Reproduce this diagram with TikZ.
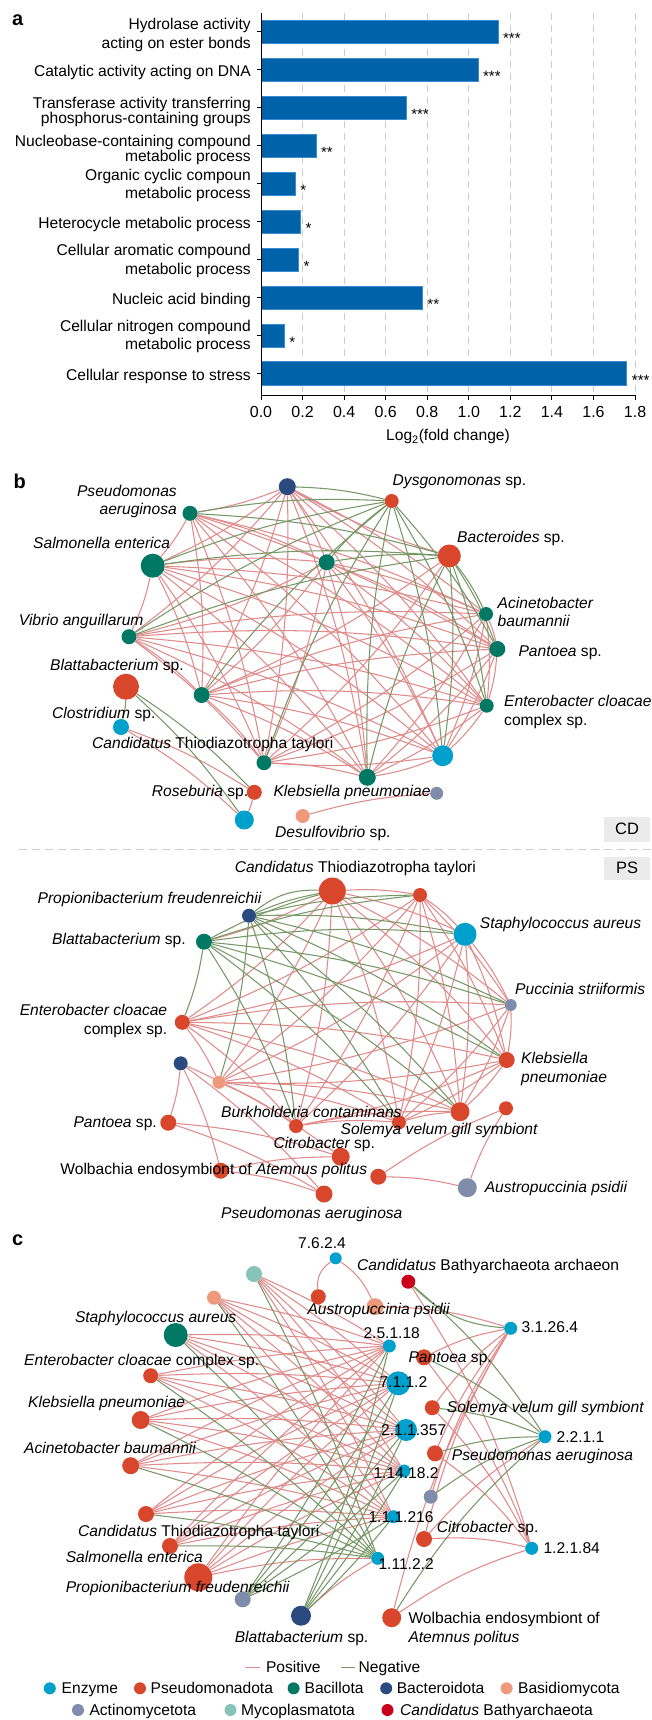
\documentclass[tikz,border=0pt]{standalone}
\usepackage{fontspec}
\setmainfont{Liberation Sans}
\usetikzlibrary{backgrounds}
\definecolor{barblue}{RGB}{0,98,168}
\definecolor{baredge}{RGB}{60,140,205}
\definecolor{enz}{RGB}{0,160,204}
\definecolor{pseu}{RGB}{216,70,44}
\definecolor{baci}{RGB}{0,120,100}
\definecolor{bact}{RGB}{43,74,128}
\definecolor{basi}{RGB}{238,152,124}
\definecolor{acti}{RGB}{128,140,172}
\definecolor{myco}{RGB}{135,196,184}
\definecolor{bath}{RGB}{200,0,26}
\definecolor{posc}{RGB}{224,138,138}
\definecolor{negc}{RGB}{118,152,102}
\definecolor{gridc}{RGB}{205,205,205}
\definecolor{boxc}{RGB}{235,235,235}
\newcommand\fsz{\fontsize{15.6}{18}\selectfont}
\newcommand\dotn[5]{\node[nd,fill=#2,minimum size=#3pt] (#1) at (#4,#5) {};}
\tikzset{
  lab/.style={inner sep=0pt, font=\fsz, text height=11.2pt, text depth=0pt},
  nd/.style={circle, inner sep=0pt, draw=none},
  pe/.style={draw=posc, line width=1.05pt},
  ne/.style={draw=negc, line width=1.05pt},
  letter/.style={inner sep=0pt, font=\bfseries\fontsize{20}{20}\selectfont},
}
\begin{document}
\begin{tikzpicture}[x=1pt,y=-1pt]
\useasboundingbox (0,0) rectangle (651,1720);
\begin{pgfonlayer}{background}
\fill[white] (0,0) rectangle (651,1720);
\end{pgfonlayer}

% ================= panel a =================
\node[letter] (la) at (17.6,20) {a};
\foreach \k in {1,...,9}
  \draw[gridc, dash pattern=on 7pt off 5pt, line width=0.9pt] ({261+\k*41.56},13) -- ({261+\k*41.56},395);
\foreach \i/\v/\s in {1/1.14/***,2/1.044/***,3/0.698/***,4/0.264/**,5/0.164/*,6/0.19/*,7/0.18/*,8/0.776/**,9/0.112/*,10/1.76/***}{
  \pgfmathsetmacro\yc{31.7+37.96*(\i-1)}
  \filldraw[fill=barblue, draw=baredge, line width=0.5pt] (261,{\yc-11.6}) rectangle ({261+\v*207.8},{\yc+11.6});
  \node[anchor=base west, inner sep=0pt, font=\fontsize{15}{15}\selectfont] at ({261+\v*207.8+5},{\yc+11.8}) {\s};
  \draw[line width=0.9pt] (257,\yc) -- (261,\yc);
}
\draw[line width=0.9pt] (261,13) -- (261,395) -- (635.5,395);
\foreach \k/\t in {0/0.0,1/0.2,2/0.4,3/0.6,4/0.8,5/1.0,6/1.2,7/1.4,8/1.6,9/1.8}{
  \draw[line width=0.9pt] ({261+\k*41.56},395) -- ({261+\k*41.56},400);
  \node[lab, font=\fontsize{16}{16}\selectfont] at ({261+\k*41.56},411.7) {\t};
}
\node[lab] (xlab) at (448,435) {Log\textsubscript{2}(fold change)};
\node[lab,anchor=east] at (251,24) {Hydrolase activity};
\node[lab,anchor=east] at (251,42.7) {acting on ester bonds};
\node[lab,anchor=east] at (251,71.2) {Catalytic activity acting on DNA};
\node[lab,anchor=east] at (251,102.7) {Transferase activity transferring};
\node[lab,anchor=east] at (251,117.8) {phosphorus-containing groups};
\node[lab,anchor=east] at (251,140.7) {Nucleobase-containing compound};
\node[lab,anchor=east] at (251,155.5) {metabolic process};
\node[lab,anchor=east] at (251,175) {Organic cyclic compoun};
\node[lab,anchor=east] at (251,193.3) {metabolic process};
\node[lab,anchor=east] at (251,223) {Heterocycle metabolic process};
\node[lab,anchor=east] at (251,250) {Cellular aromatic compound};
\node[lab,anchor=east] at (251,268.7) {metabolic process};
\node[lab,anchor=east] at (251,299) {Nucleic acid binding};
\node[lab,anchor=east] at (251,325.7) {Cellular nitrogen compound};
\node[lab,anchor=east] at (251,344.3) {metabolic process};
\node[lab,anchor=east] at (251,374.5) {Cellular response to stress};

% ================= panel b : CD =================
\node[letter] (lb) at (19.7,481) {b};
\dotn{cdA}{bact}{17}{287.3}{486.7}
\dotn{cdB}{pseu}{14}{391.7}{501}
\dotn{cdC}{baci}{15}{190}{513.3}
\dotn{cdD}{pseu}{23}{449.3}{556}
\dotn{cdE}{baci}{24}{152.7}{565.7}
\dotn{cdF}{baci}{16}{326.7}{562.3}
\dotn{cdG}{baci}{14}{486}{614}
\dotn{cdH}{baci}{15}{129}{636.7}
\dotn{cdI}{baci}{16}{497.3}{649}
\dotn{cdJ}{pseu}{26}{126}{686.7}
\dotn{cdK}{baci}{16}{201.7}{695}
\dotn{cdL}{baci}{14}{486.7}{705.7}
\dotn{cdM}{enz}{16}{121}{727}
\dotn{cdN}{enz}{21}{442.7}{755.7}
\dotn{cdO}{baci}{15}{264}{762.7}
\dotn{cdP}{baci}{17}{367.3}{777.3}
\dotn{cdQ}{pseu}{15}{254.3}{792.3}
\dotn{cdR}{acti}{13}{436.7}{793.3}
\dotn{cdS}{enz}{19}{244.3}{820}
\dotn{cdT}{basi}{14}{302.7}{816}
\begin{pgfonlayer}{background}
\foreach \a/\b in {cdA/cdC,cdA/cdE,cdA/cdF,cdA/cdG,cdA/cdI,cdA/cdK,cdA/cdL,cdA/cdN,cdA/cdO,cdA/cdP,cdA/cdH,
  cdC/cdE,cdC/cdF,cdC/cdG,cdC/cdI,cdC/cdK,cdC/cdL,cdC/cdN,cdC/cdO,cdC/cdP,
  cdE/cdF,cdE/cdG,cdE/cdI,cdE/cdK,cdE/cdL,cdE/cdN,cdE/cdO,cdE/cdP,cdE/cdH,
  cdF/cdG,cdF/cdI,cdF/cdK,cdF/cdL,cdF/cdN,cdF/cdO,cdF/cdP,cdF/cdH,
  cdH/cdG,cdH/cdI,cdH/cdK,cdH/cdL,cdH/cdN,cdH/cdO,cdH/cdP,
  cdK/cdG,cdK/cdI,cdK/cdL,cdK/cdN,cdK/cdO,cdK/cdP,
  cdG/cdL,cdG/cdN,cdG/cdO,cdG/cdP,cdG/cdI,
  cdI/cdL,cdI/cdN,cdI/cdO,cdI/cdP,
  cdL/cdN,cdL/cdO,cdL/cdP,cdN/cdO,cdN/cdP,cdO/cdP,
  cdD/cdK,cdD/cdO,cdD/cdA,cdM/cdQ,cdM/cdS,cdQ/cdS,cdT/cdR}
  \draw[pe] (\a) to[bend left=6] (\b);
\foreach \a/\b in {cdA/cdB,cdC/cdB,cdC/cdD,cdE/cdB,cdE/cdD,cdF/cdB,cdF/cdD,cdH/cdB,cdH/cdD,cdK/cdB,
  cdO/cdB,cdP/cdB,cdP/cdD,cdB/cdI,cdB/cdL,cdB/cdN,cdD/cdG,cdD/cdI,cdD/cdL,cdD/cdN,cdJ/cdQ,cdJ/cdS,cdJ/cdM}
  \draw[ne] (\a) to[bend left=6] (\b);
\end{pgfonlayer}
\node[lab,anchor=east] at (177,491) {\itshape Pseudomonas};
\node[lab,anchor=east] at (177,509.3) {\itshape aeruginosa};
\node[lab,anchor=west] at (392.5,480) {{\itshape Dysgonomonas} sp.};
\node[lab,anchor=west] at (33,543.3) {\itshape Salmonella enterica};
\node[lab,anchor=west] at (457,536.5) {{\itshape Bacteroides} sp.};
\node[lab,anchor=west] at (497.5,603.3) {\itshape Acinetobacter};
\node[lab,anchor=west] at (497.5,620.7) {\itshape baumannii};
\node[lab,anchor=west] at (18.7,620) {\itshape Vibrio anguillarum};
\node[lab,anchor=west] at (518.3,650.7) {{\itshape Pantoea} sp.};
\node[lab,anchor=west] at (50,665) {{\itshape Blattabacterium} sp.};
\node[lab,anchor=west] at (504,701) {\itshape Enterobacter cloacae};
\node[lab,anchor=west] at (504,720) {complex sp.};
\node[lab,anchor=west] at (52,713.3) {{\itshape Clostridium} sp.};
\node[lab,anchor=west] at (92,743.3) {{\itshape Candidatus} Thiodiazotropha taylori};
\node[lab,anchor=west] at (151.7,790.7) {{\itshape Roseburia} sp.};
\node[lab,anchor=west] at (273.3,790.7) {\itshape Klebsiella pneumoniae};
\node[lab,anchor=west] at (275,831.7) {{\itshape Desulfovibrio} sp.};
\node[fill=boxc, inner sep=0pt, minimum width=46pt, minimum height=25pt, font=\fontsize{16.5}{17}\selectfont] (cd) at (627,829.2) {CD};
\draw[gridc, dash pattern=on 8pt off 5pt, line width=1pt] (18.7,849) -- (651,849);
\node[fill=boxc, inner sep=0pt, minimum width=46pt, minimum height=23pt, font=\fontsize{16.5}{17}\selectfont] (ps) at (627,868) {PS};

% ================= panel b : PS =================
\dotn{psa}{pseu}{27}{332.3}{891}
\dotn{psb}{pseu}{14}{420}{895}
\dotn{psc}{bact}{14}{249}{915.7}
\dotn{psd}{enz}{23}{465}{934.3}
\dotn{pse}{baci}{16}{204}{941.7}
\dotn{psf}{acti}{12}{510.7}{1005}
\dotn{psg}{pseu}{15}{182.3}{1022.3}
\dotn{psh}{bact}{14}{180.7}{1063.3}
\dotn{psi}{pseu}{16}{506.7}{1060}
\dotn{psj}{basi}{13}{219}{1082.3}
\dotn{psk}{pseu}{16}{168.3}{1122.7}
\dotn{psl}{pseu}{14}{296}{1126}
\dotn{psm}{pseu}{14}{399}{1122.3}
\dotn{psn}{pseu}{19}{460}{1111.7}
\dotn{pso}{pseu}{14}{506}{1108.3}
\dotn{psp}{pseu}{18}{340.7}{1156.7}
\dotn{psq}{pseu}{16}{220.7}{1170.7}
\dotn{psr}{pseu}{16}{378.3}{1176.7}
\dotn{pss}{acti}{19}{467.3}{1187.7}
\dotn{pst}{pseu}{17}{324}{1194}
\begin{pgfonlayer}{background}
\foreach \a/\b in {psa/psb,psa/psd,psa/psg,psa/psi,psa/psj,psa/psl,psa/psm,psa/psn,psa/psf,psa/pse,
  psb/psd,psb/psg,psb/psj,psb/psl,psb/psm,psb/psn,psb/psi,psb/psf,
  psd/psg,psd/psf,psd/psi,psd/psj,psd/psl,psd/psm,psd/psn,
  psg/psf,psg/psi,psg/psn,psg/psl,psg/psm,psg/psj,
  psf/psi,psf/psj,psf/psn,psf/psm,psi/psj,psi/psl,psi/psm,psi/psn,
  psj/psl,psj/psm,psj/psn,psl/psm,psl/psn,psm/psn,
  psh/psk,psh/psq,psh/pst,psh/psp,psk/psp,psk/pst,psq/psp,psq/pst,psr/pso,psr/pss,pss/pso}
  \draw[pe] (\a) to[bend left=6] (\b);
\foreach \a/\b in {psc/psa,psc/psb,psc/psd,psc/psf,psc/psl,psc/psm,psc/psn,psc/psi,psc/psj,
  pse/psa,pse/psb,pse/psd,pse/psf,pse/psi,pse/psn,pse/psg,pse/psl,pse/psm}
  \draw[ne] (\a) to[bend left=6] (\b);
\draw[ne] (psc) to[bend left=20] (psa);
\end{pgfonlayer}
\node[lab,anchor=west] at (234.6,866.7) {{\itshape Candidatus} Thiodiazotropha taylori};
\node[lab,anchor=west] at (37.4,897.7) {\itshape Propionibacterium freudenreichii};
\node[lab,anchor=west] at (479.7,923) {\itshape Staphylococcus aureus};
\node[lab,anchor=west] at (52,939.3) {{\itshape Blattabacterium} sp.};
\node[lab,anchor=west] at (515,989) {\itshape Puccinia striiformis};
\node[lab,anchor=east] at (167.4,1010) {\itshape Enterobacter cloacae};
\node[lab,anchor=east] at (167.4,1029.3) {complex sp.};
\node[lab,anchor=west] at (521,1058.3) {\itshape Klebsiella};
\node[lab,anchor=west] at (521,1077.3) {\itshape pneumoniae};
\node[lab,anchor=east] at (157,1122.3) {{\itshape Pantoea} sp.};
\node[lab,anchor=west] at (221,1112.3) {\itshape Burkholderia contaminans};
\node[lab,anchor=west] at (340.5,1129.3) {\itshape Solemya velum gill symbiont};
\node[lab,anchor=west] at (273.3,1143.3) {{\itshape Citrobacter} sp.};
\node[lab,anchor=west] at (60.2,1169.3) {Wolbachia endosymbiont of {\itshape Atemnus politus}};
\node[lab,anchor=west] at (484.6,1186.7) {\itshape Austropuccinia psidii};
\node[lab,anchor=west] at (221,1212.7) {\itshape Pseudomonas aeruginosa};

% ================= panel c =================
\node[letter] (lc) at (17.7,1240) {c};
\dotn{c7624}{enz}{12}{335.7}{1258.3}
\dotn{cmyc}{myco}{16}{254}{1274}
\dotn{cbat}{bath}{14}{408.3}{1281.7}
\dotn{cred}{pseu}{15}{318.3}{1296.7}
\dotn{cbas}{basi}{14}{214}{1297.7}
\dotn{caus}{basi}{17}{375}{1306.7}
\dotn{csta}{baci}{24}{175.7}{1335}
\dotn{c31264}{enz}{13}{510.7}{1328.3}
\dotn{c25118}{enz}{13}{389.3}{1346}
\dotn{cpan}{pseu}{16}{424}{1357.3}
\dotn{cent}{pseu}{15}{150.7}{1375.7}
\dotn{c7112}{enz}{24}{398.3}{1383.3}
\dotn{csol}{pseu}{15}{432.3}{1407.7}
\dotn{ckle}{pseu}{18}{140.7}{1420}
\dotn{c211357}{enz}{22}{406}{1430}
\dotn{c2211}{enz}{13}{545}{1436.7}
\dotn{cpsa}{pseu}{16}{435}{1453.3}
\dotn{caci}{pseu}{17}{130.7}{1465.7}
\dotn{c114182}{enz}{13}{404}{1471}
\dotn{cgra}{acti}{14}{430.7}{1496.7}
\dotn{cctt}{pseu}{16}{146}{1514}
\dotn{c111216}{enz}{13}{393.3}{1516.7}
\dotn{ccit}{pseu}{16}{424}{1539}
\dotn{csal}{pseu}{16}{170}{1546}
\dotn{c12184}{enz}{13}{531.7}{1548.3}
\dotn{c11122}{enz}{13}{377.7}{1558.3}
\dotn{cpro}{pseu}{28}{198.3}{1577.3}
\dotn{cgrb}{acti}{16}{242.7}{1599.3}
\dotn{cbla}{bact}{20}{301}{1615.7}
\dotn{cwol}{pseu}{19}{391.7}{1617.7}
\begin{pgfonlayer}{background}
\foreach \a in {csta,cent,ckle,caci,cctt,csal,cpro,cbas,cmyc}
  \foreach \b in {c25118,c7112,c211357,c114182,c111216}
    \draw[pe] (\a) to[bend left=4] (\b);
\foreach \a in {cpro,cbla}
  \draw[pe] (\a) to[bend left=6] (c11122);
\foreach \a in {csta,cent,ckle,caci,cctt,csal,cmyc,cbas}
  \draw[ne] (\a) to[bend left=4] (c11122);
\foreach \a in {cgrb,cbla}
  \foreach \b in {c25118,c7112,c211357,c114182,c111216}
    \draw[ne] (\a) to[bend right=4] (\b);
\draw[pe] (c7624) to[bend right=30] (cred);
\draw[pe] (c7624) to[bend left=15] (caus);
\foreach \a/\b in {cbat/c12184,cpan/c31264,cpan/c12184,csol/c31264,csol/c12184,cpsa/c31264,cpsa/c12184,
  cgra/c31264,ccit/c31264,ccit/c2211,ccit/c12184,cwol/c31264,cwol/c12184,caus/c31264}
  \draw[pe] (\a) to[bend left=8] (\b);
\foreach \a/\b in {cbat/c2211,cpan/c2211,csol/c2211,cpsa/c2211,cgra/c2211,cwol/c2211}
  \draw[ne] (\a) to[bend left=8] (\b);
\draw[ne] (cbat) to[bend right=20] (c31264);
\end{pgfonlayer}
\node[lab] at (322,1243) {7.6.2.4};
\node[lab,anchor=west] at (357,1265) {{\itshape Candidatus} Bathyarchaeota archaeon};
\node[lab,anchor=west] at (307.3,1309) {\itshape Austropuccinia psidii};
\node[lab,anchor=west] at (74.8,1316.7) {\itshape Staphylococcus aureus};
\node[lab,anchor=west] at (521.5,1327.3) {3.1.26.4};
\node[lab,anchor=west] at (363.3,1332.7) {2.5.1.18};
\node[lab,anchor=west] at (408.3,1357.3) {{\itshape Pantoea} sp.};
\node[lab,anchor=west] at (24,1360) {{\itshape Enterobacter cloacae} complex sp.};
\node[lab,anchor=west] at (379.3,1382.3) {7.1.1.2};
\node[lab,anchor=west] at (28,1401.7) {\itshape Klebsiella pneumoniae};
\node[lab,anchor=west] at (446.7,1406.7) {\itshape Solemya velum gill symbiont};
\node[lab,anchor=west] at (381,1430) {2.1.1.357};
\node[lab,anchor=west] at (556.5,1436.7) {2.2.1.1};
\node[lab,anchor=west] at (24,1447.7) {\itshape Acinetobacter baumannii};
\node[lab,anchor=west] at (451.7,1455) {\itshape Pseudomonas aeruginosa};
\node[lab,anchor=west] at (373.3,1473.3) {1.14.18.2};
\node[lab,anchor=west] at (368.3,1517.3) {1.1.1.216};
\node[lab,anchor=west] at (436.7,1526.7) {{\itshape Citrobacter} sp.};
\node[lab,anchor=west] at (78,1530.7) {{\itshape Candidatus} Thiodiazotropha taylori};
\node[lab,anchor=west] at (543.3,1548.3) {1.2.1.84};
\node[lab,anchor=west] at (65.6,1557.3) {\itshape Salmonella enterica};
\node[lab,anchor=west] at (378.3,1564) {1.11.2.2};
\node[lab,anchor=west] at (65.6,1586.7) {\itshape Propionibacterium freudenreichii};
\node[lab,anchor=west] at (234.6,1636.7) {{\itshape Blattabacterium} sp.};
\node[lab,anchor=west] at (408.3,1618.3) {Wolbachia endosymbiont of};
\node[lab,anchor=west] at (408.3,1636.7) {\itshape Atemnus politus};

% ================= legend =================
\coordinate (lp1) at (245,1667.3); \coordinate (lp2) at (259.6,1667.3);
\draw[pe] (lp1) -- (lp2);
\node[lab,anchor=west] at (265.8,1667.3) {Positive};
\coordinate (ln1) at (341,1667.3); \coordinate (ln2) at (354.5,1667.3);
\draw[ne] (ln1) -- (ln2);
\node[lab,anchor=west] at (358.5,1667.3) {Negative};
\foreach \c/\x/\tx/\t in {enz/49.8/61.5/Enzyme, pseu/140/150.5/Pseudomonadota, baci/293.6/304.4/Bacillota, bact/386.2/396.6/Bacteroidota, basi/506.6/517.9/Basidiomycota}{
  \node[nd,fill=\c,minimum size=12pt] at (\x,1688.3) {};
  \node[lab,anchor=west] at (\tx,1688.3) {\t};
}
\foreach \c/\x/\tx/\t in {acti/78/89.3/Actinomycetota, myco/230.5/241/Mycoplasmatota}{
  \node[nd,fill=\c,minimum size=12pt] at (\x,1710) {};
  \node[lab,anchor=west] at (\tx,1710) {\t};
}
\node[nd,fill=bath,minimum size=12pt] (lgb) at (387.5,1710) {};
\node[lab,anchor=west] at (400,1710) {{\itshape Candidatus} Bathyarchaeota};
\end{tikzpicture}
\end{document}
